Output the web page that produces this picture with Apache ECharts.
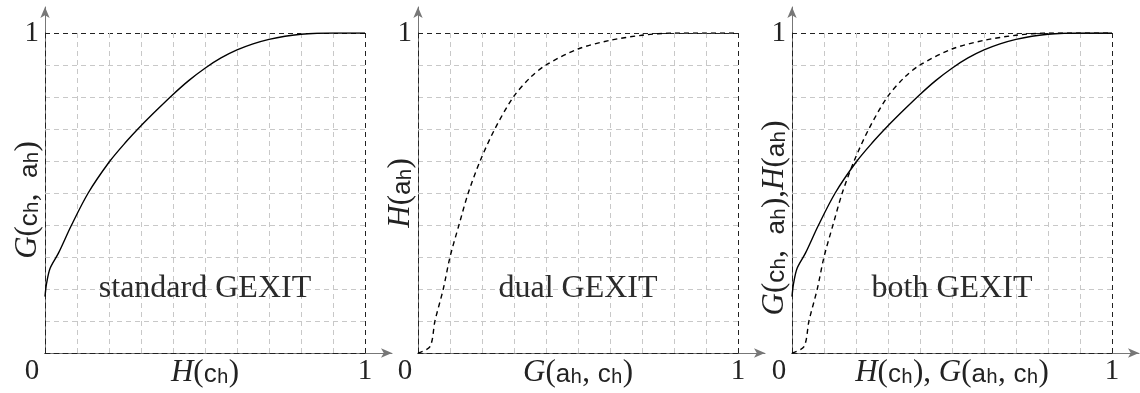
<!DOCTYPE html>
<html>
<head>
<meta charset="utf-8">
<script src="https://cdn.jsdelivr.net/npm/echarts@6/dist/echarts.min.js"></script>
<style>
  html, body { margin: 0; background: #fff; }
  #chart { width: 1140px; height: 393px; }
</style>
</head>
<body>
<div id="chart"></div>
<script>
// standard GEXIT curve G(c_h, a_h) vs H(c_h), solid
const standardX = [0, 0.005, 0.016, 0.042, 0.083, 0.135, 0.2, 0.25, 0.3, 0.35, 0.4, 0.45, 0.5, 0.55, 0.6, 0.65, 0.7, 0.75, 0.8, 0.85, 0.9, 1];
const standardY = [0.176, 0.218, 0.265, 0.312, 0.4, 0.5, 0.596, 0.656, 0.71, 0.76, 0.808, 0.852, 0.89, 0.922, 0.947, 0.966, 0.98, 0.99, 0.996, 0.999, 1, 1];
// dual GEXIT curve H(a_h) vs G(a_h, c_h), dashed
const dualX = [0, 0.0375, 0.053, 0.079, 0.1, 0.128, 0.157, 0.194, 0.24, 0.298, 0.35, 0.4, 0.5, 0.6, 0.7, 0.8, 0.9, 1];
const dualY = [0, 0.02, 0.1, 0.2, 0.3, 0.4, 0.5, 0.6, 0.7, 0.8, 0.86, 0.9, 0.95, 0.977, 0.993, 1, 1, 1];

const panelTitles = ["standard GEXIT", "dual GEXIT", "both GEXIT"];
const xNames = [
  "{i|H}{n|(}{s|c}{t|h}{n|)}",
  "{i|G}{n|(}{s|a}{t|h}{n|, }{s|c}{t|h}{n|)}",
  "{i|H}{n|(}{s|c}{t|h}{n|), }{i|G}{n|(}{s|a}{t|h}{n|, }{s|c}{t|h}{n|)}"
];
const yNames = [
  "{i|G}{n|(}{s|c}{t|h}{n|,  }{s|a}{t|h}{n|)}",
  "{i|H}{n|(}{s|a}{t|h}{n|)}",
  "{i|G}{n|(}{s|c}{t|h}{n|,  }{s|a}{t|h}{n|),}{i|H}{n|(}{s|a}{t|h}{n|)}"
];
const yNameShift = [14, 0, 50];
const panelLefts = [45, 418, 792];

const serif = "'Liberation Serif', serif";
const ink = "#222";

const rich = {
  i: { fontFamily: serif, fontStyle: "italic", fontSize: 31, lineHeight: 34, verticalAlign: "bottom", color: ink },
  n: { fontFamily: serif, fontSize: 31, lineHeight: 34, verticalAlign: "bottom", color: ink },
  s: { fontFamily: "'Liberation Sans', sans-serif", fontSize: 26, lineHeight: 32, verticalAlign: "bottom", color: ink },
  t: { fontFamily: "'Liberation Mono', monospace", fontSize: 20, lineHeight: 13, verticalAlign: "bottom", color: ink }
};

const gridColors = ["#222"].concat(Array(9).fill("#c8c8c8"), ["#222"]);

const grids = [], xAxes = [], yAxes = [], series = [];

panelLefts.forEach((left, p) => {
  // data grid
  grids.push({ left: left, top: 33, width: 320, height: 320, outerBoundsMode: "none", containLabel: false });
  // arrow grid (axis lines running past 1)
  grids.push({ left: left, top: 7, width: 347, height: 346, outerBoundsMode: "none", containLabel: false });
  const g = p * 2;

  xAxes.push({
    gridIndex: g, type: "value", min: 0, max: 1, interval: 0.1, z: 5,
    axisLine: { show: true, lineStyle: { color: "#222", width: 1, type: [5, 4] } },
    axisTick: { show: false },
    axisLabel: {
      margin: 4, fontFamily: serif, fontSize: 29, color: ink,
      formatter: (v) => (v === 0 ? "{z|0}" : v === 1 ? "1" : ""),
      rich: { z: { fontFamily: serif, fontSize: 29, color: ink, padding: [0, 26, 0, 0] } }
    },
    splitLine: { show: true, lineStyle: { color: gridColors, width: 1, type: [5, 4] } },
    name: xNames[p], nameLocation: "middle", nameGap: 1, nameMoveOverlap: false,
    nameTextStyle: { rich: rich }
  });
  yAxes.push({
    gridIndex: g, type: "value", min: 0, max: 1, interval: 0.1, z: 5,
    axisLine: { show: true, lineStyle: { color: "#222", width: 1, type: [5, 4] } },
    axisTick: { show: false },
    axisLabel: {
      margin: 6, fontFamily: serif, fontSize: 29, color: ink,
      formatter: (v) => (v === 1 ? "1" : "")
    },
    splitLine: { show: true, lineStyle: { color: gridColors, width: 1, type: [5, 4] } },
    name: yNames[p], nameLocation: "middle", nameGap: 2, nameRotate: 90, nameMoveOverlap: false,
    nameTextStyle: { rich: rich, padding: [0, yNameShift[p], 0, 0] }
  });

  xAxes.push({
    gridIndex: g + 1, type: "value", min: 0, max: 1, z: 4,
    axisLine: { show: true, symbol: ["none", "arrow"], symbolSize: [7, 11], lineStyle: { color: "#777", width: 1 } },
    axisTick: { show: false }, axisLabel: { show: false }, splitLine: { show: false }
  });
  yAxes.push({
    gridIndex: g + 1, type: "value", min: 0, max: 1, z: 4,
    axisLine: { show: true, symbol: ["none", "arrow"], symbolSize: [7, 11], lineStyle: { color: "#777", width: 1 } },
    axisTick: { show: false }, axisLabel: { show: false }, splitLine: { show: false }
  });

  const ax = g; // axis index for data grid
  const curve = (xs, ys, dashed) => ({
    type: "line", xAxisIndex: ax, yAxisIndex: ax, z: 6,
    data: xs.map((x, i) => [x, ys[i]]),
    showSymbol: false, smooth: 0.3,
    lineStyle: { color: "#000", width: 1.4, type: dashed ? [5, 4] : "solid" }
  });
  if (p !== 1) series.push(curve(standardX, standardY, false));
  if (p !== 0) series.push(curve(dualX, dualY, true));

  series.push({
    type: "scatter", xAxisIndex: ax, yAxisIndex: ax, z: 7,
    data: [[0.5, 0.2]], symbolSize: 1, itemStyle: { color: "#fff", opacity: 1 },
    label: {
      show: true, position: "inside", formatter: panelTitles[p], opacity: 1,
      fontFamily: serif, fontSize: 32, color: "#2b2b2b", textBorderWidth: 0
    }
  });
});

const chart = echarts.init(document.getElementById("chart"));
chart.setOption({
  animation: false,
  grid: grids,
  xAxis: xAxes,
  yAxis: yAxes,
  series: series
});
</script>
</body>
</html>
